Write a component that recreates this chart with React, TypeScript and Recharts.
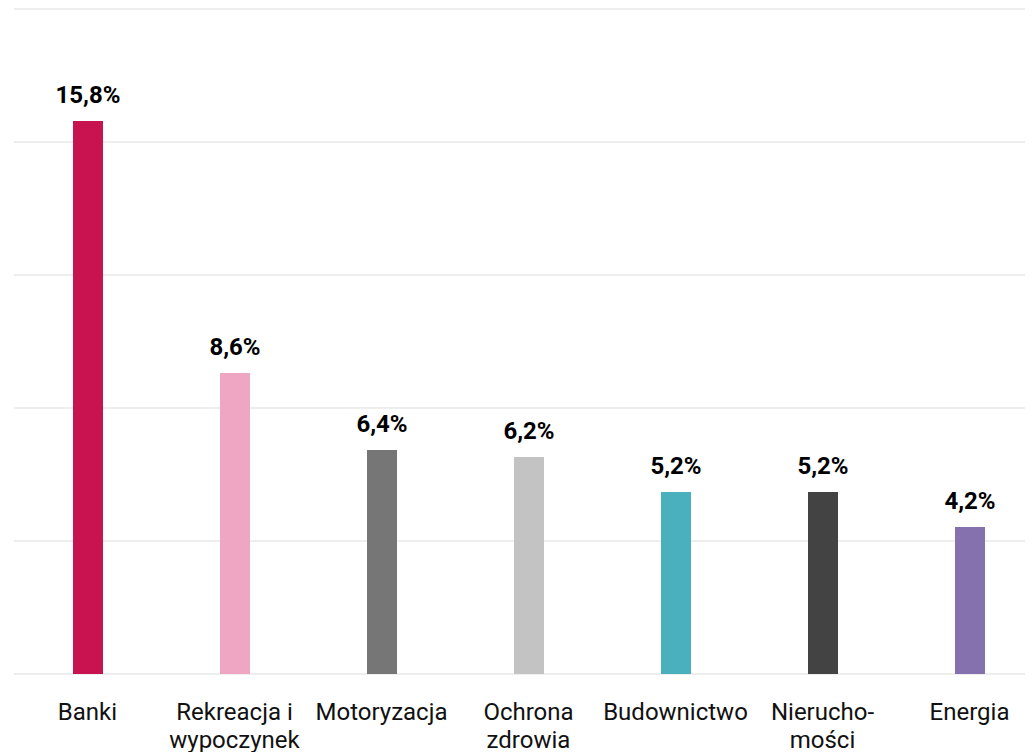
import { Bar, BarChart, CartesianGrid, Cell, LabelList, XAxis, YAxis } from "recharts";

const CATEGORIES = [
  "Banki",
  "Rekreacja i\nwypoczynek",
  "Motoryzacja",
  "Ochrona\nzdrowia",
  "Budownictwo",
  "Nierucho-\nmości",
  "Energia",
];
const VALUES = [15.8, 8.6, 6.4, 6.2, 5.2, 5.2, 4.2];
const COLORS = ["#C81351", "#EEA6C3", "#767676", "#C3C3C3", "#4BB0BE", "#434343", "#8671AF"];
const Y_TICKS = [0, 3.8, 7.6, 11.4, 15.2, 19];

const data = CATEGORIES.map((name, i) => ({ name, value: VALUES[i] }));

const FONT = "Roboto, 'Noto Sans', sans-serif";

function CategoryTick({ x, y, payload }: any) {
  const lines = String(payload.value).split("\n");
  return (
    <text x={x} y={y} textAnchor="middle" fill="#111" fontSize={24} fontFamily={FONT}>
      {lines.map((l, i) => (
        <tspan key={i} x={x} dy={i === 0 ? 44 : 28}>
          {l}
        </tspan>
      ))}
    </text>
  );
}

export default function App() {
  return (
    <div style={{ width: 1025, height: 744, overflow: "hidden" }}>
      <BarChart width={1036} height={760} data={data} margin={{ top: 1, right: 1, left: 6, bottom: 0 }}>
        <CartesianGrid vertical={false} stroke="#e8e8e8" strokeWidth={1.5} />
        <XAxis
          dataKey="name"
          axisLine={false}
          tickLine={false}
          tickSize={0}
          height={94}
          interval={0}
          tick={<CategoryTick />}
        />
        <YAxis hide domain={[0, 19]} ticks={Y_TICKS} />
        <Bar dataKey="value" barSize={30} isAnimationActive={false}>
          {data.map((d, i) => (
            <Cell key={d.name} fill={COLORS[i]} />
          ))}
          <LabelList
            dataKey="value"
            position="top"
            offset={18}
            formatter={(v: number) => `${v.toFixed(1).replace(".", ",")}%`}
            style={{ fontFamily: FONT, fontSize: 24, fontWeight: 700, fill: "#000" }}
          />
        </Bar>
      </BarChart>
    </div>
  );
}
